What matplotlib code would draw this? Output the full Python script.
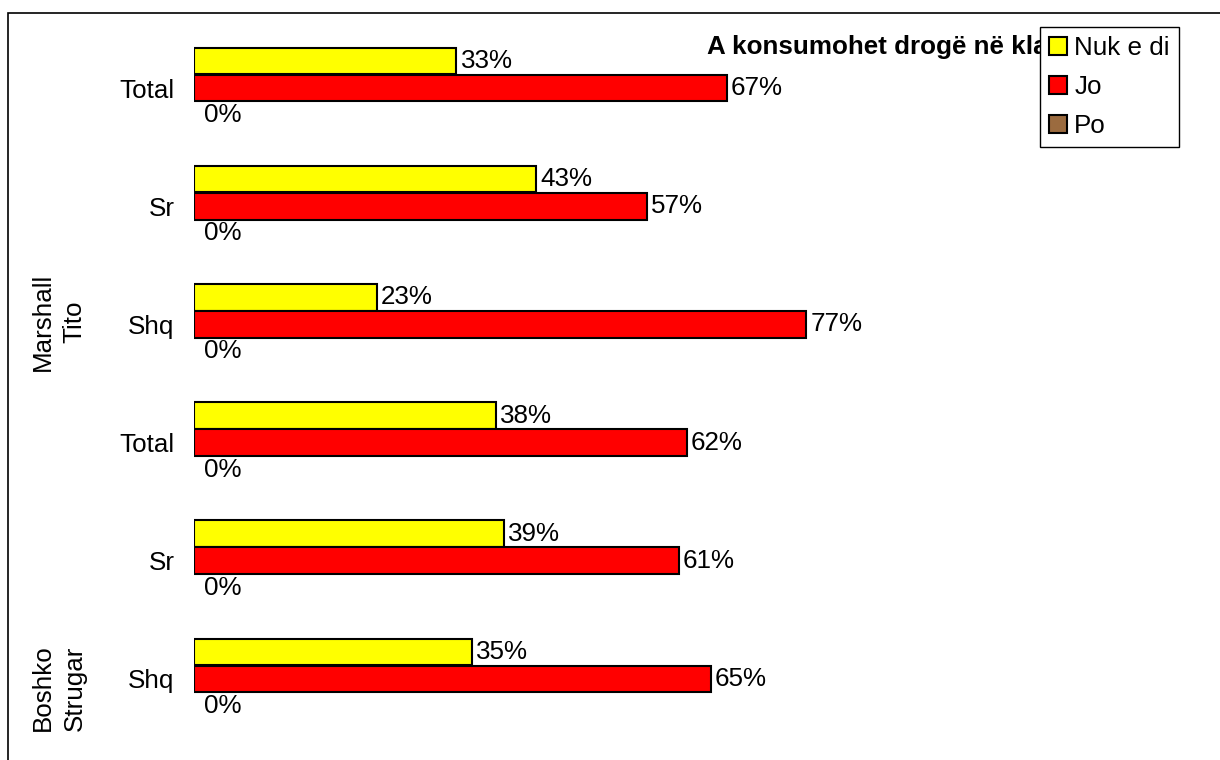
import matplotlib.pyplot as plt
from matplotlib.patches import Rectangle

plt.rcParams['font.family'] = ['Liberation Sans', 'DejaVu Sans']

categories = ['Total', 'Sr', 'Shq', 'Total', 'Sr', 'Shq']
groups = ['Marshall\nTito', 'Boshko\nStrugar']
nuk_e_di = [33, 43, 23, 38, 39, 35]
jo = [67, 57, 77, 62, 61, 65]
po = [0, 0, 0, 0, 0, 0]
series_names = ['Nuk e di', 'Jo', 'Po']
colors = ['#FFFF00', '#FF0000', '#9B6B3F']
title = 'A konsumohet drogë në klasë?'

W, H = 1220, 760
fs = 18.7
fig = plt.figure(figsize=(W / 100, H / 100), dpi=100)

# outer chart border (left/top edges visible)
fig.patches.append(Rectangle((8 / W, -0.01), 1.1, 1 - 13 / H + 0.01,
                             transform=fig.transFigure, fill=False,
                             edgecolor='black', linewidth=1.2))

ax = fig.add_axes([194 / W, 1 - 738 / H, (989 - 194) / W, (738 - 29) / H])
ax.set_xlim(0, 100)
ax.set_ylim(len(categories) - 0.5, -0.5)

offsets = [-0.229, 0.0, 0.229]
bh = 0.225
series = [nuk_e_di, jo, po]
for vals, off, col, name in zip(series, offsets, colors, series_names):
    ypos = [i + off for i in range(len(categories))]
    bars = ax.barh(ypos, vals, height=bh, color=col, edgecolor='black',
                   linewidth=1.5, label=name)
    for b, v in zip(bars, vals):
        if v == 0:
            # empty bar: nothing visible, as in the original
            b.set_visible(False)
    for y, v in zip(ypos, vals):
        ax.annotate(f'{v}%', (v, y), xytext=(3 if v > 0 else 7, 0),
                    textcoords='offset points', va='center', ha='left',
                    fontsize=fs)

ax.set_yticks(range(len(categories)))
ax.set_yticklabels(categories, fontsize=fs)
ax.tick_params(axis='y', length=0, pad=14)
ax.set_xticks([])
for s in ax.spines.values():
    s.set_visible(False)

# group labels
fig.text(59 / W, 1 - 322 / H, groups[0], rotation=90, ha='center',
         va='center', fontsize=fs, linespacing=1.4, multialignment='center')
fig.text(59 / W, 1 - 688 / H, groups[1], rotation=90, ha='center',
         va='center', fontsize=fs, linespacing=1.4, multialignment='center')

fig.text(707 / W, 1 - 47 / H, title, fontsize=fs, fontweight='bold',
         ha='left', va='center', zorder=1)

h, l = ax.get_legend_handles_labels()
leg = fig.legend(h, l, loc='upper left', bbox_to_anchor=(1040 / W, 1 - 27 / H),
                 bbox_transform=fig.transFigure, borderaxespad=0,
                 fontsize=fs, frameon=True, fancybox=False, framealpha=1,
                 edgecolor='black', handlelength=0.7, handleheight=0.7,
                 handletextpad=0.27, labelspacing=0.58, borderpad=0.35)
leg.get_frame().set_linewidth(1.0)
leg.set_zorder(10)
for p in leg.get_patches():
    p.set_visible(True)
    p.set_linewidth(1.5)

fig.savefig('out.png', dpi=100)
